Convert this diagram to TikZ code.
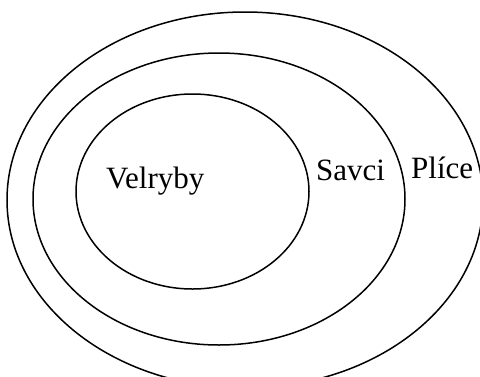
\documentclass[tikz,border=0pt]{standalone}
\usepackage{fontspec}
\setmainfont{Liberation Serif}
\tikzset{
  setline/.style={draw=black, line width=1.5pt},
  setlabel/.style={anchor=base west, inner sep=0pt, font=\fontsize{31}{37}\selectfont}
}
\begin{document}
\begin{tikzpicture}[x=1pt,y=-1pt]
\useasboundingbox (0,0) rectangle (480,376);
\begin{scope}
\clip (0,0) rectangle (480,376);
\draw[setline] (245,200) ellipse [x radius=238, y radius=188];
\end{scope}
\draw[setline] (219,199) ellipse [x radius=186, y radius=146];
\draw[setline] (192.5,191.5) ellipse [x radius=116.5, y radius=97.5];
\node[setlabel] (velryby) at (106,188) {Velryby};
\node[setlabel] (savci) at (316,180) {Savci};
\node[setlabel] (plice) at (411,178) {Plíce};
\end{tikzpicture}
\end{document}
